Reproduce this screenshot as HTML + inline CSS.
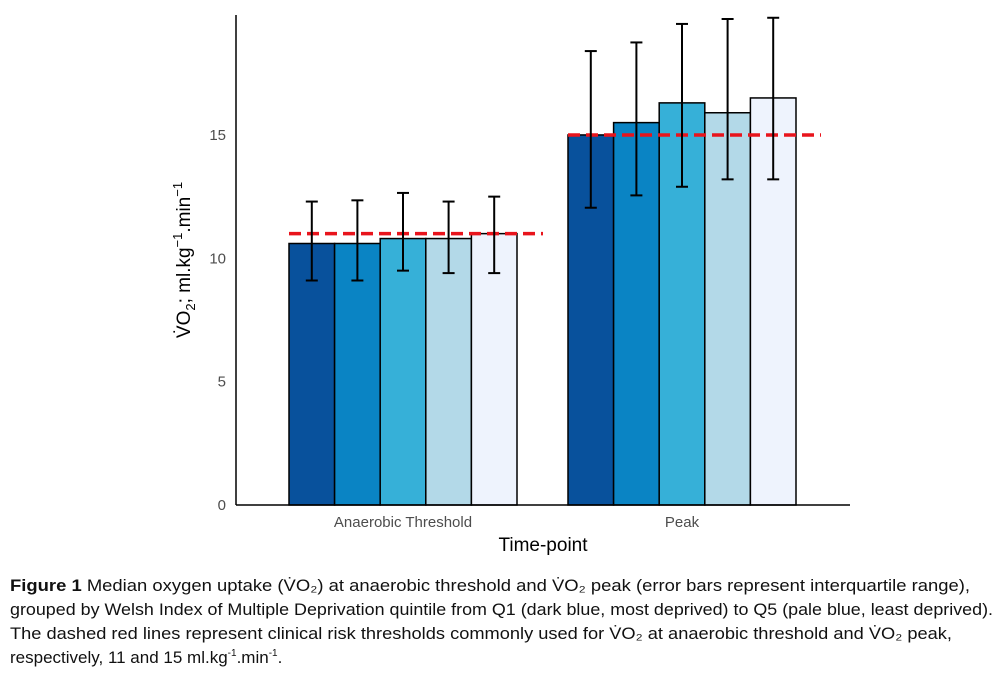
<!DOCTYPE html>
<html><head><meta charset="utf-8"><style>
body{margin:0;background:#fff;}
svg{display:block;font-family:"Liberation Sans",sans-serif;}
</style></head><body>
<svg id="chart" width="1000" height="675" viewBox="0 0 1000 675">
<g id="marks"></g>
<line x1="236" y1="15" x2="236" y2="505" stroke="#000" stroke-width="1.5"/>
<line x1="236" y1="505" x2="850" y2="505" stroke="#000" stroke-width="1.5"/>
<g id="yticks" font-size="15" fill="#4d4d4d" text-anchor="end"></g>
<g id="xticks" font-size="15" fill="#4d4d4d" text-anchor="middle"></g>
<text x="543" y="551" font-size="19" text-anchor="middle">Time-point</text>
<text transform="translate(190,260) rotate(-90)" font-size="19" text-anchor="middle">V̇O<tspan font-size="13" dy="5">2</tspan><tspan dy="-5">; ml.kg</tspan><tspan font-size="13" dy="-8">−1</tspan><tspan dy="8">.min</tspan><tspan font-size="13" dy="-8">−1</tspan></text>
<g font-size="16.5" fill="#111">
<text x="10" y="591" textLength="960" lengthAdjust="spacingAndGlyphs"><tspan font-weight="bold">Figure 1</tspan>   Median oxygen uptake (V̇O₂) at anaerobic threshold and V̇O₂ peak (error bars represent interquartile range),</text>
<text x="10" y="615" textLength="983" lengthAdjust="spacingAndGlyphs">grouped by Welsh Index of Multiple Deprivation quintile from Q1 (dark blue, most deprived) to Q5 (pale blue, least deprived).</text>
<text x="10" y="639" textLength="942" lengthAdjust="spacingAndGlyphs">The dashed red lines represent clinical risk thresholds commonly used for V̇O₂ at anaerobic threshold and V̇O₂ peak,</text>
<text x="10" y="663" font-size="17">respectively, 11 and 15  ml.kg<tspan font-size="10" dy="-7">-1</tspan><tspan dy="7">.min</tspan><tspan font-size="10" dy="-7">-1</tspan><tspan dy="7">.</tspan></text>
</g>
</svg>
<script>
const categories=["Anaerobic Threshold","Peak"];
const quintiles=["Q1","Q2","Q3","Q4","Q5"];
const medians=[[10.6,10.6,10.8,10.8,11.0],[15.0,15.5,16.3,15.9,16.5]];
const q1s=[[9.1,9.1,9.5,9.4,9.4],[12.05,12.55,12.9,13.2,13.2]];
const q3s=[[12.3,12.35,12.65,12.3,12.5],[18.4,18.75,19.5,19.7,19.75]];
const thresholds=[11,15];
const yTicks=[0,5,10,15];
const colors=["#08519c","#0a84c4","#36b0d8","#b3d9e8","#eef3fd"];
const NS="http://www.w3.org/2000/svg";
const y0=505,pxPerUnit=24.67;
function ys(v){return y0-v*pxPerUnit;}
const groupStart=[289,568],barW=45.6;
function xs(c,i){return groupStart[c]+i*barW;}
function mk(tag,attrs,parent){const e=document.createElementNS(NS,tag);for(const k in attrs)e.setAttribute(k,attrs[k]);parent.appendChild(e);return e;}
const marks=document.getElementById('marks');
categories.forEach((cat,c)=>{
  quintiles.forEach((q,i)=>{
    const x=xs(c,i),v=medians[c][i];
    const r=mk('rect',{x:x,y:ys(v),width:barW,height:y0-ys(v),fill:colors[i],stroke:'#000','stroke-width':1.5},marks);
    
    
  });
  const t=mk('line',{x1:xs(c,0),x2:xs(c,0)+barW*5+(c?25:26),y1:ys(thresholds[c]),y2:ys(thresholds[c]),stroke:'#e8141c','stroke-width':3.5,'stroke-dasharray':'12 6'},marks);
  
  
  quintiles.forEach((q,i)=>{
    const cx=xs(c,i)+barW/2;
    const g=mk('g',{stroke:'#000','stroke-width':2},marks);
    
    
    mk('line',{x1:cx,x2:cx,y1:ys(q3s[c][i]),y2:ys(q1s[c][i])},g);
    mk('line',{x1:cx-6,x2:cx+6,y1:ys(q3s[c][i]),y2:ys(q3s[c][i])},g);
    mk('line',{x1:cx-6,x2:cx+6,y1:ys(q1s[c][i]),y2:ys(q1s[c][i])},g);
  });
  const xt=mk('text',{x:xs(c,0)+barW*2.5,y:527},document.getElementById('xticks'));
  xt.textContent=cat;
  
  
});
yTicks.forEach(v=>{
  const t=mk('text',{x:226,y:ys(v)+5},document.getElementById('yticks'));
  t.textContent=v;
  
  
});
</script>
</body></html>
